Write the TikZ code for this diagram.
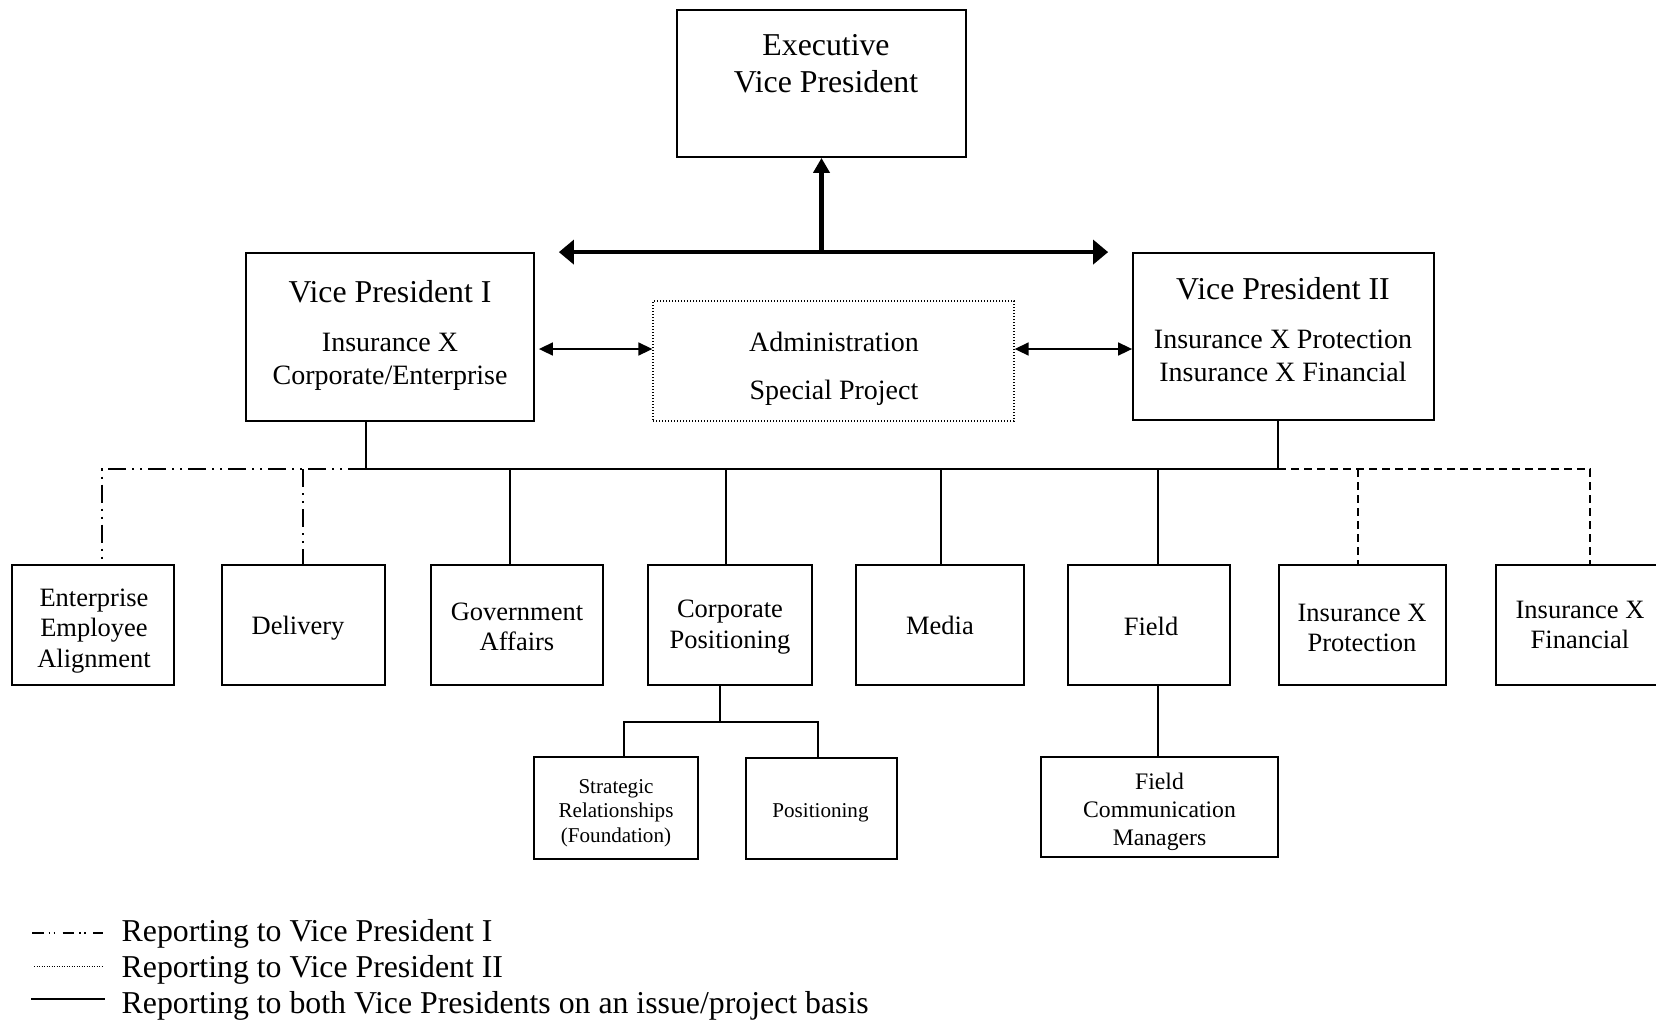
\documentclass[tikz,border=0pt]{standalone}
\usepackage{fontspec}
\setmainfont{Liberation Serif}
\usetikzlibrary{arrows.meta}
\begin{document}
\begin{tikzpicture}[x=1pt,y=-1pt,
  box/.style={draw, line width=1.8pt, inner sep=0pt},
  dotbox/.style={draw, line width=1.3pt, dash pattern=on 1.4pt off 1.6pt, inner sep=0pt},
  fA/.style={font=\fontsize{31.8}{36.7}\selectfont, align=center, inner sep=0pt},
  fB/.style={font=\fontsize{28}{32.4}\selectfont, align=center, inner sep=0pt},
  fAdm/.style={font=\fontsize{28}{48.3}\selectfont, align=center, inner sep=0pt},
  fC/.style={font=\fontsize{26.5}{30.6}\selectfont, align=center, inner sep=0pt},
  fD/.style={font=\fontsize{23.7}{27.8}\selectfont, align=center, inner sep=0pt},
  fE/.style={font=\fontsize{21.1}{24.5}\selectfont, align=center, inner sep=0pt},
  conn/.style={line width=1.8pt},
  repI/.style={line width=1.8pt, dash pattern=on 18pt off 6pt on 2pt off 6pt on 2pt off 6pt},
  repII/.style={line width=1.8pt, dash pattern=on 8pt off 5pt},
  legI/.style={line width=1.8pt, dash pattern=on 11.5pt off 5pt on 1.5pt off 3.5pt on 1.5pt off 7.6pt},
  legII/.style={line width=1pt, dash pattern=on 1pt off 1.5pt},
  bigarr/.style={line width=4.5pt},
  smallarr/.style={line width=1.6pt, {Triangle[length=14pt,width=13pt]}-{Triangle[length=14pt,width=13pt]}}
]
\clip (0,0) rectangle (1656,1021);
\fill[white] (0,0) rectangle (1656,1021);

% top level
\node[box, minimum width=289, minimum height=147] (exec) at (821.5,83.5) {};
\node[fA] (execT) at (826,64) {Executive\\Vice President};

\node[box, minimum width=288, minimum height=168] (vp1) at (390,337) {};
\node[fA] (vp1T) at (390,292) {Vice President I};
\node[fB] (vp1S) at (390,362) {Insurance X\\Corporate/Enterprise};

\node[box, minimum width=301, minimum height=167] (vp2) at (1283.5,336.5) {};
\node[fA] (vp2T) at (1283,289) {Vice President II};
\node[fB] (vp2S) at (1283,356) {Insurance X Protection\\Insurance X Financial};

\node[dotbox, minimum width=361, minimum height=120] (admin) at (833.5,361) {};
\node[fAdm] (adminT) at (834,369) {Administration\\Special Project};

% bottom row
\node[box, minimum width=162, minimum height=120] (ent) at (93,625) {};
\node[fC] (entT) at (94,631) {Enterprise\\Employee\\Alignment};
\node[box, minimum width=163, minimum height=120] (del) at (303.5,625) {};
\node[fC] (delT) at (298,628) {Delivery};
\node[box, minimum width=172, minimum height=120] (gov) at (517,625) {};
\node[fC] (govT) at (517,627) {Government\\Affairs};
\node[box, minimum width=164, minimum height=120] (corp) at (730,625) {};
\node[fC] (corpT) at (730,627) {Corporate\\Positioning};
\node[box, minimum width=168, minimum height=120] (media) at (940,625) {};
\node[fC] (mediaT) at (940,625) {Media};
\node[box, minimum width=162, minimum height=120] (field) at (1149,625) {};
\node[fC] (fieldT) at (1151,626) {Field};
\node[box, minimum width=167, minimum height=120] (prot) at (1362.5,625) {};
\node[fC] (protT) at (1362,628) {Insurance X\\Protection};
\node[box, minimum width=168, minimum height=120] (fin) at (1580,625) {};
\node[fC] (finT) at (1580,625) {Insurance X\\Financial};

% sub boxes
\node[box, minimum width=164, minimum height=102] (strat) at (616,808) {};
\node[fE] (stratT) at (616,813) {Strategic\\Relationships\\(Foundation)};
\node[box, minimum width=151, minimum height=101] (pos) at (821.5,808.5) {};
\node[fE] (posT) at (820.5,812.5) {Positioning};
\node[box, minimum width=237, minimum height=100] (fcm) at (1159.5,807) {};
\node[fD] (fcmT) at (1159.5,812) {Field\\Communication\\Managers};

% thick arrows
\coordinate (hub) at (exec.south |- vp1.north);
\draw[bigarr, -{Triangle[length=15pt,width=16pt]}] (hub) -- (exec.south);
\draw[bigarr, {Triangle[length=15pt,width=24pt]}-{Triangle[length=15pt,width=24pt]}, shorten <=24pt, shorten >=24pt] (vp1.north east) -- (vp2.north west);

% admin arrows
\coordinate (ay) at (0,349);
\draw[smallarr, shorten <=4pt] (vp1.east |- ay) -- (admin.west |- ay);
\draw[smallarr] (admin.east |- ay) -- (vp2.west |- ay);

% bus
\coordinate (d1) at (366,469);
\coordinate (d2) at (1278,469);
\draw[conn] (d1 |- vp1.south) -- (d1) -- (d2) -- (d2 |- vp2.south);

\coordinate (tgov) at (510,469);
\coordinate (tcorp) at (726,469);
\coordinate (tmedia) at (941,469);
\coordinate (tfield) at (1158,469);
\draw[conn] (tgov) -- (tgov |- gov.north);
\draw[conn] (tcorp) -- (tcorp |- corp.north);
\draw[conn] (tmedia) -- (tmedia |- media.north);
\draw[conn] (tfield) -- (tfield |- field.north);

\coordinate (tent) at (101.7,469);
\coordinate (tdel) at (303.3,469);
\draw[repI] (d1) -- (tent) -- (tent |- ent.north);
\draw[repI] (tdel) -- (tdel |- del.north);

\coordinate (tprot) at (1358,469);
\coordinate (tfin) at (1590,469);
\draw[repII] (d2) -- (tfin) -- (tfin |- fin.north);
\draw[repII] (tprot) -- (tprot |- prot.north);

% corporate sub tree
\coordinate (cj) at (720,722);
\coordinate (sL) at (624,722);
\coordinate (sR) at (818,722);
\draw[conn] (cj |- corp.south) -- (cj);
\draw[conn] (sL |- strat.north) -- (sL) -- (sR) -- (sR |- pos.north);

% field sub
\coordinate (fx) at (1158,700);
\draw[conn] (fx |- field.south) -- (fx |- fcm.north);

% legend
\coordinate (l1a) at (32,933);  \coordinate (l1b) at (103,933);
\coordinate (l2a) at (34,966);  \coordinate (l2b) at (103,966);
\coordinate (l3a) at (31,999);  \coordinate (l3b) at (105,999);
\draw[legI] (l1a) -- (l1b);
\draw[legII] (l2a) -- (l2b);
\draw[conn] (l3a) -- (l3b);
\node[fA, anchor=west] (leg1) at (121.5,934) {Reporting to Vice President I};
\node[fA, anchor=west] (leg2) at (121.5,970) {Reporting to Vice President II};
\node[fA, anchor=west] (leg3) at (121.5,1006) {Reporting to both Vice Presidents on an issue/project basis};
\end{tikzpicture}
\end{document}
